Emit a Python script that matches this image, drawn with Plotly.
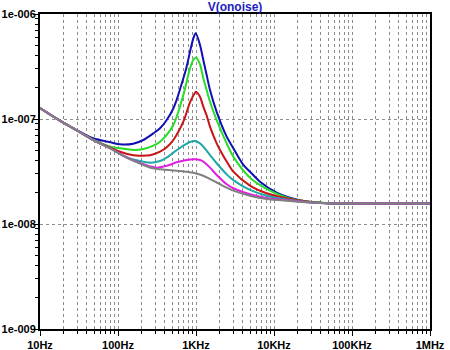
import plotly.graph_objects as go

# ---- data ----
blue_f = [10, 18, 30, 48, 80, 106, 157, 211, 284, 346, 421, 512, 565, 688, 759, 838, 924, 991,
          1125, 1241, 1370, 1512, 1841, 2474, 3011, 4046, 4924, 6616, 10800, 16000, 27000, 45000, 100000, 1000000]
blue_v = [1.27e-7, 9.64e-8, 7.8e-8, 6.55e-8, 6.0e-8, 5.74e-8, 5.82e-8, 6.31e-8, 7.3e-8, 8.15e-8, 9.78e-8, 1.26e-7, 1.52e-7, 2.44e-7, 3.15e-7, 4.38e-7, 5.86e-7, 6.55e-7,
          5.07e-7, 3.65e-7, 2.62e-7, 1.89e-7, 1.17e-7, 6.79e-8, 5.26e-8, 3.65e-8, 3.15e-8, 2.53e-8, 1.99e-8, 1.78e-8, 1.63e-8, 1.58e-8, 1.57e-8, 1.57e-8]

green_f = [10, 18, 30, 48, 80, 106, 157, 211, 284, 346, 421, 512, 565, 688, 838, 924, 1000,
           1125, 1241, 1370, 1512, 1841, 2474, 3011, 4924, 8054, 16000, 30000, 50000, 100000, 1000000]
green_v = [1.27e-7, 9.64e-8, 7.75e-8, 6.35e-8, 5.45e-8, 5.26e-8, 5.07e-8, 5.17e-8, 5.57e-8, 6.08e-8, 7.05e-8, 8.77e-8, 1.05e-7, 1.69e-7, 3.04e-7, 3.67e-7, 3.86e-7,
           3.32e-7, 2.44e-7, 1.89e-7, 1.46e-7, 9.78e-8, 5.86e-8, 4.38e-8, 2.76e-8, 2.16e-8, 1.75e-8, 1.63e-8, 1.58e-8, 1.57e-8, 1.57e-8]

red_f = [10, 18, 30, 48, 80, 106, 157, 191, 257, 346, 421, 512, 688, 838, 971, 1000,
         1125, 1241, 1370, 1512, 1841, 2032, 2474, 3011, 4924, 8054, 16000, 30000, 50000, 100000, 1000000]
red_v = [1.27e-7, 9.64e-8, 7.75e-8, 6.33e-8, 5.33e-8, 4.88e-8, 4.51e-8, 4.47e-8, 4.51e-8, 4.88e-8, 5.37e-8, 6.31e-8, 9.43e-8, 1.44e-7, 1.78e-7, 1.82e-7,
         1.63e-7, 1.31e-7, 1.08e-7, 8.45e-8, 5.86e-8, 5.07e-8, 3.93e-8, 3.15e-8, 2.32e-8, 1.96e-8, 1.73e-8, 1.62e-8, 1.58e-8, 1.57e-8, 1.57e-8]

cyan_f = [10, 18, 30, 48, 80, 129, 191, 257, 346, 421, 512, 688, 838, 971,
          1125, 1241, 1512, 1841, 2474, 3011, 4924, 8054, 16000, 30000, 50000, 100000, 1000000]
cyan_v = [1.27e-7, 9.64e-8, 7.75e-8, 6.31e-8, 5.24e-8, 4.33e-8, 3.98e-8, 3.84e-8, 3.98e-8, 4.28e-8, 4.78e-8, 5.57e-8, 6.04e-8, 6.17e-8,
          5.86e-8, 5.45e-8, 4.54e-8, 3.79e-8, 2.97e-8, 2.62e-8, 2.11e-8, 1.86e-8, 1.69e-8, 1.61e-8, 1.58e-8, 1.57e-8, 1.57e-8]

magenta_f = [10, 18, 30, 48, 80, 129, 191, 257, 313, 421, 565, 759, 971,
             1125, 1241, 1512, 1841, 2474, 3011, 4924, 8054, 16000, 30000, 50000, 100000, 1000000]
magenta_v = [1.27e-7, 9.64e-8, 7.75e-8, 6.31e-8, 5.24e-8, 4.30e-8, 3.81e-8, 3.54e-8, 3.44e-8, 3.58e-8, 3.87e-8, 4.07e-8, 4.13e-8,
             4.07e-8, 3.93e-8, 3.44e-8, 2.93e-8, 2.39e-8, 2.19e-8, 1.92e-8, 1.77e-8, 1.67e-8, 1.6e-8, 1.58e-8, 1.57e-8, 1.57e-8]

gray_f = [10, 18, 30, 48, 80, 129, 211, 284, 346, 565, 924, 1241, 1512, 2032, 3011, 4924, 8054, 16000, 30000, 50000, 100000, 1000000]
gray_v = [1.27e-7, 9.64e-8, 7.75e-8, 6.31e-8, 5.22e-8, 4.28e-8, 3.65e-8, 3.39e-8, 3.32e-8, 3.22e-8, 3.08e-8, 2.88e-8, 2.68e-8, 2.39e-8, 2.08e-8, 1.86e-8, 1.73e-8, 1.66e-8, 1.6e-8, 1.58e-8, 1.57e-8, 1.57e-8]

x_tickvals = [10, 100, 1000, 10000, 100000, 1000000]
x_ticktext = ["10Hz", "100Hz", "1KHz", "10KHz", "100KHz", "1MHz"]
y_tickvals = [1e-9, 1e-8, 1e-7, 1e-6]
y_ticktext = ["1e-009", "1e-008", "1e-007", "1e-006"]
title_text = "V(onoise)"

series = [
    (blue_f, blue_v, "#1010b4"),
    (green_f, green_v, "#28dc28"),
    (red_f, red_v, "#c81414"),
    (cyan_f, cyan_v, "#1ea8a8"),
    (magenta_f, magenta_v, "#e020e0"),
    (gray_f, gray_v, "#808080"),
]

fig = go.Figure()
for f, v, c in series:
    fig.add_trace(go.Scatter(x=f, y=v, mode="lines",
                             line=dict(color=c, width=2, shape="spline", smoothing=0.8),
                             showlegend=False, hoverinfo="skip"))

font_main = dict(family="Liberation Sans, Arial, sans-serif", size=11, color="black", weight="bold")

fig.update_layout(
    width=450, height=350,
    margin=dict(l=40, r=20, t=14, b=21, autoexpand=False),
    paper_bgcolor="white", plot_bgcolor="white",
    title=dict(text=title_text, x=0.5, xref="paper", xanchor="center",
               y=1 - 7 / 350, yref="container", yanchor="middle",
               font=dict(family="Liberation Sans, Arial, sans-serif", size=12, color="#1e1ec0", weight="bold")),
    font=font_main,
)
fig.update_xaxes(
    type="log", range=[1, 6], automargin=False,
    tickmode="array", tickvals=x_tickvals, ticktext=x_ticktext,
    ticks="outside", ticklen=5, tickwidth=1, tickcolor="black",
    showgrid=True, gridcolor="#8c8c8c", gridwidth=1, griddash="dot",
    minor=dict(dtick="D1", ticks="outside", ticklen=3, tickcolor="black",
               showgrid=True, gridcolor="#8c8c8c", gridwidth=1, griddash="dot"),
    showline=True, linecolor="black", linewidth=2, mirror=True,
    zeroline=False, tickfont=font_main,
)
fig.update_yaxes(
    type="log", range=[-9, -6], automargin=False,
    tickmode="array", tickvals=y_tickvals, ticktext=y_ticktext,
    ticks="outside", ticklen=5, tickwidth=1, tickcolor="black",
    showgrid=True, gridcolor="#8c8c8c", gridwidth=1, griddash="dot",
    minor=dict(dtick="D1", ticks="outside", ticklen=3, tickcolor="black", showgrid=False),
    showline=True, linecolor="black", linewidth=2, mirror=True,
    zeroline=False, tickfont=font_main, ticklabelstandoff=-5,
)

fig.write_html("out.html")
